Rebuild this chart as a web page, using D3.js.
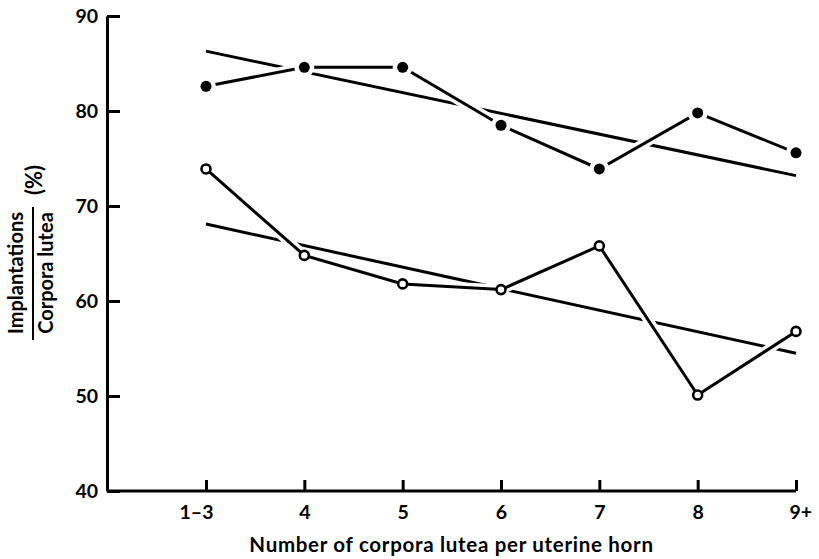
<!DOCTYPE html>
<html>
<head>
<meta charset="utf-8">
<script src="https://cdn.jsdelivr.net/npm/d3@7"></script>
<style>
  body { margin: 0; background: #fff; }
  svg { display: block; }
</style>
</head>
<body>
<div id="chart"></div>
<script>
/* Values. Each series has one value per category,
** the trend arrays hold the fitted line at the first and last category.
*/
var categories = ["1\u20133", "4", "5", "6", "7", "8", "9+"];
var filledValues = [82.6, 84.6, 84.6, 78.5, 73.9, 79.8, 75.6];
var openValues = [73.9, 64.8, 61.8, 61.2, 65.8, 50.1, 56.8];
var filledTrend = [86.3, 73.2];
var openTrend = [68.1, 54.5];
var yTicks = [40, 50, 60, 70, 80, 90];

var config = {
    width: 819,
    height: 559,
    axisX: 107,
    xRange: [206, 796],
    yRange: [491, 16],
    fontFamily: 'Lato, "DejaVu Sans", sans-serif',
    tickFont: 19.5,
    titleFont: 20.5,
    lineWidth: 3,
    markerSize: 5,
    haloSize: 10
};

var svg = d3.select("#chart").append("svg")
    .attr("width", config.width)
    .attr("height", config.height);

var x = d3.scalePoint().domain(categories).range(config.xRange);
var y = d3.scaleLinear().domain([40, 90]).range(config.yRange);

// y axis, ticks pointing into the plot
var yAxis = svg.append("g")
    .attr("transform", "translate(" + config.axisX + ",0)")
    .call(d3.axisLeft(y).tickValues(yTicks).tickSize(-13).tickSizeOuter(0).tickPadding(9));

// x axis, the line itself is drawn by hand so it reaches the y axis
var xAxis = svg.append("g")
    .attr("transform", "translate(0," + y(40) + ")")
    .call(d3.axisBottom(x).tickSize(-11).tickSizeOuter(0).tickPadding(14));
xAxis.select(".domain").remove();
xAxis.append("line")
    .attr("x1", config.axisX)
    .attr("x2", x(categories[categories.length - 1]))
    .attr("stroke", "#000")
    .attr("stroke-width", config.lineWidth);

svg.selectAll(".domain, .tick line")
    .attr("stroke", "#000")
    .attr("stroke-width", config.lineWidth);

svg.selectAll(".tick text")
    .attr("fill", "#000")
    .attr("font-family", config.fontFamily)
    .attr("font-weight", 700)
    .attr("font-size", config.tickFont);

// "1-3" and "9+": keep the single digit over the tick
xAxis.selectAll(".tick text").each(function (d) {
    var t = d3.select(this);
    if (d.indexOf("\u2013") >= 0) t.attr("text-anchor", "end").attr("x", 7);
    else if (d.indexOf("+") >= 0) t.attr("text-anchor", "start").attr("x", -7);
});

// trend lines
var trendLine = d3.line()
    .x(function (d) { return x(d.cat); })
    .y(function (d) { return y(d.v); });

function trendPoints(t) {
    return [{ cat: categories[0], v: t[0] }, { cat: categories[categories.length - 1], v: t[1] }];
}

[filledTrend, openTrend].forEach(function (t) {
    svg.append("path")
        .datum(trendPoints(t))
        .attr("d", trendLine)
        .attr("fill", "none")
        .attr("stroke", "#000")
        .attr("stroke-width", config.lineWidth);
});

// data lines get a white halo so they cut through the trend lines
function drawSeries(values, filled) {
    var pts = values.map(function (v, i) { return { cat: categories[i], v: v }; });

    svg.append("path")
        .datum(pts)
        .attr("d", trendLine)
        .attr("fill", "none")
        .attr("stroke", "#fff")
        .attr("stroke-width", 10);

    svg.append("path")
        .datum(pts)
        .attr("d", trendLine)
        .attr("fill", "none")
        .attr("stroke", "#000")
        .attr("stroke-width", config.lineWidth);

    var dots = svg.selectAll(null).data(pts).enter();

    if (filled) {
        dots.append("circle")
            .attr("cx", function (d) { return x(d.cat); })
            .attr("cy", function (d) { return y(d.v); })
            .attr("r", config.haloSize)
            .attr("fill", "#fff");
        dots.append("circle")
            .attr("cx", function (d) { return x(d.cat); })
            .attr("cy", function (d) { return y(d.v); })
            .attr("r", config.markerSize + 0.5)
            .attr("fill", "#000");
    } else {
        dots.append("circle")
            .attr("cx", function (d) { return x(d.cat); })
            .attr("cy", function (d) { return y(d.v); })
            .attr("r", config.markerSize - 0.5)
            .attr("fill", "#fff")
            .attr("stroke", "#000")
            .attr("stroke-width", 2.6);
    }
}

drawSeries(filledValues, true);
drawSeries(openValues, false);

// x axis title
svg.append("text")
    .attr("x", (config.axisX + x(categories[categories.length - 1])) / 2)
    .attr("y", 552)
    .attr("text-anchor", "middle")
    .attr("font-family", config.fontFamily)
    .attr("font-weight", 700)
    .attr("font-size", config.titleFont)
    .attr("letter-spacing", 0.7)
    .text("Number of corpora lutea per uterine horn");

// y axis title: a fraction plus (%)
var yt = svg.append("g")
    .attr("font-family", config.fontFamily)
    .attr("font-weight", 700)
    .attr("font-size", 20)
    .attr("text-anchor", "middle");

yt.append("text")
    .attr("transform", "translate(23,273) rotate(-90)")
    .text("Implantations");
yt.append("line")
    .attr("x1", 33).attr("x2", 33)
    .attr("y1", 207).attr("y2", 340)
    .attr("stroke", "#000")
    .attr("stroke-width", 2);
yt.append("text")
    .attr("transform", "translate(53,273) rotate(-90)")
    .text("Corpora lutea");
yt.append("text")
    .attr("transform", "translate(42,180) rotate(-90)")
    .attr("font-size", 22)
    .text("(%)");
</script>
</body>
</html>
